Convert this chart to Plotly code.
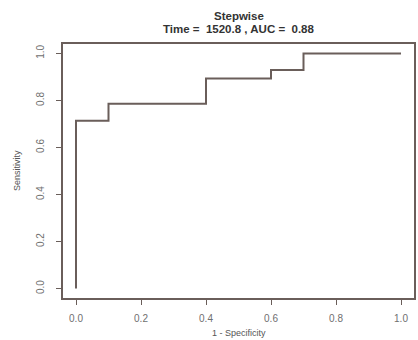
import plotly.graph_objects as go

# ROC step points (1 - specificity, sensitivity)
fpr = [0.0, 0.0, 0.1, 0.4, 0.6, 0.7, 1.0]
tpr = [0.0, 0.714, 0.786, 0.893, 0.929, 1.0, 1.0]
tick_vals = [0.0, 0.2, 0.4, 0.6, 0.8, 1.0]
tick_text = ["0.0", "0.2", "0.4", "0.6", "0.8", "1.0"]
title_lines = ["Stepwise", "Time =  1520.8 , AUC =  0.88"]
x_title = "1 - Specificity"
y_title = "Sensitivity"

line_col = "#6a5e5a"
txt_col = "#6f6f6f"

fig = go.Figure()
fig.add_trace(go.Scatter(x=fpr, y=tpr, mode="lines", line=dict(shape="hv", color=line_col, width=2),
                         showlegend=False, hoverinfo="skip"))

fig.update_layout(
    width=418, height=340,
    margin=dict(l=63, r=2, t=44, b=42),
    paper_bgcolor="white", plot_bgcolor="white",
    font=dict(family="Liberation Sans, Arial, sans-serif", color=txt_col, size=9),
)
fig.add_annotation(text="<b>%s</b>" % title_lines[0], xref="paper", yref="paper", x=0.5, y=1.0,
                   yanchor="middle", yshift=28, showarrow=False, font=dict(size=11.5, color="#333333"))
fig.add_annotation(text="<b>%s</b>" % title_lines[1], xref="paper", yref="paper", x=0.5, y=1.0,
                   yanchor="middle", yshift=15, showarrow=False, font=dict(size=11.5, color="#333333"))
fig.add_annotation(text=x_title, xref="paper", yref="paper", x=0.5, y=0.0,
                   yanchor="middle", yshift=-35, showarrow=False, font=dict(size=9, color="#555555"))
fig.add_annotation(text=y_title, xref="paper", yref="paper", x=0.0, y=0.5,
                   xanchor="center", xshift=-46, textangle=-90, showarrow=False,
                   font=dict(size=9, color="#555555"))

axis_common = dict(
    range=[-0.04, 1.04], tickvals=tick_vals, ticktext=tick_text,
    showline=True, linecolor=line_col, linewidth=1.5, mirror=True,
    ticks="outside", ticklen=5, tickcolor=line_col, tickwidth=1,
    showgrid=False, zeroline=False, fixedrange=True,
    tickfont=dict(size=10, color=txt_col),
)
fig.update_xaxes(**axis_common, ticklabelstandoff=5)
fig.update_yaxes(**axis_common, tickangle=-90, ticklabelstandoff=8)

fig.write_html("out.html", config={"displayModeBar": False},
               post_script="document.body.style.margin='0';document.body.style.overflow='hidden';")
